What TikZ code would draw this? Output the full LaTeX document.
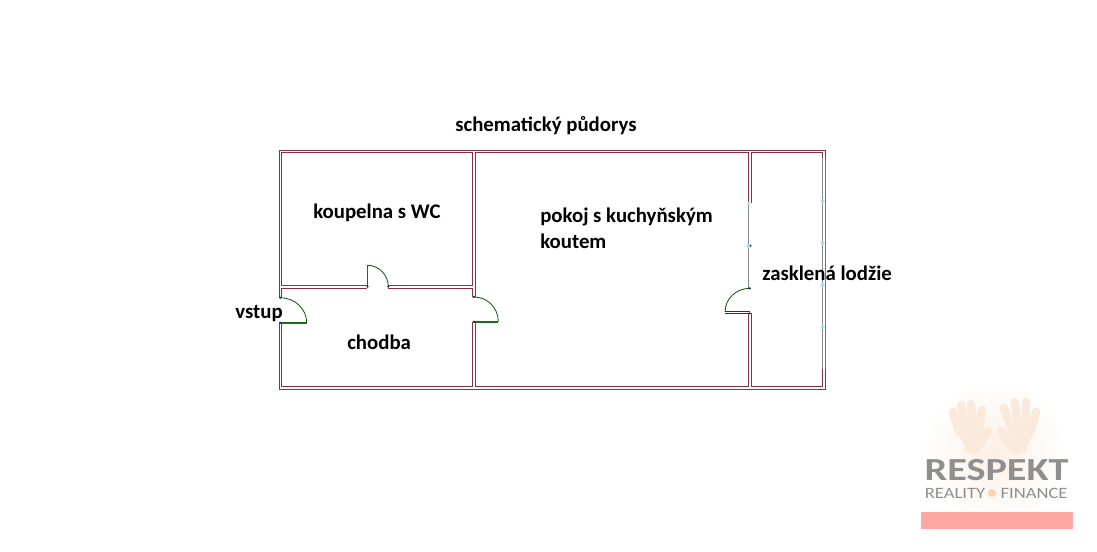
\documentclass[tikz,border=0pt]{standalone}
\usepackage{fontspec}
\setmainfont{Carlito}
\definecolor{wallred}{HTML}{8A3040}
\definecolor{doorgreen}{HTML}{1B6B1F}
\definecolor{glassgrey}{HTML}{7F8C96}
\definecolor{glassgreen}{HTML}{3F8F6A}
\definecolor{jointblue}{HTML}{14285A}
\definecolor{jointcyan}{HTML}{A8DCE0}
\definecolor{logogrey}{HTML}{8F8F8F}
\definecolor{logopeach}{HTML}{FAEADC}
\definecolor{glowpeach}{HTML}{FCEFE4}
\definecolor{barpink}{HTML}{FFA8A3}
\tikzset{
  wall/.style={draw=wallred,line width=0.22mm},
  leaf/.style={draw=doorgreen,line width=0.42mm},
  swing/.style={draw=doorgreen!70!black,line width=0.2mm},
  finger/.style={draw=logopeach,line width=2.1mm,line cap=round},
  room/.style={anchor=base west,inner sep=0pt,font=\bfseries\fontsize{14.8}{17}\selectfont,text=black},
}
\begin{document}
\begin{tikzpicture}[x=0.25mm,y=-0.25mm]
  \useasboundingbox (0,0) rectangle (1097,552);

  \draw[wall]  (279.3,297.7) -- (279.3,150) -- (825.7,150) -- (825.7,158); %outer top
  \draw[wall]  (279.3,322.7) -- (279.3,389) -- (825.7,389) -- (825.7,369.3); %outer bottom
  \draw[wall]  (281.7,297.7) -- (281.7,288.7) -- (367.3,288.7); %corridor top left
  \draw[wall]  (388.3,288.7) -- (472.7,288.7) -- (472.7,296.7); %corridor top right
  \draw[wall]  (281.7,322.7) -- (281.7,386.3) -- (472.7,386.3) -- (472.7,321.7); %corridor bottom
  \draw[wall]  (367.3,285.3) -- (281.7,285.3) -- (281.7,152.7) -- (472.7,152.7) -- (472.7,285.3) -- (388.3,285.3); %bathroom
  \draw[wall]  (475.3,296.7) -- (475.3,152.7) -- (748.7,152.7) -- (748.7,203.3); %room top
  \draw[wall]  (475.3,321.7) -- (475.3,386.3) -- (748.7,386.3) -- (748.7,313.3); %room bottom
  \draw[wall]  (751.3,203.3) -- (751.3,152.7) -- (822.7,152.7) -- (822.7,158); %loggia top
  \draw[wall]  (751.3,313.3) -- (751.3,386.3) -- (822.7,386.3) -- (822.7,369.3); %loggia bottom

  \draw[leaf]  (280,322.7) -- (306.7,322.7); %entrance door
  \draw[swing] (280,297.7) .. controls (295,297.7) and (306.7,309) .. (306.7,322.7);
  \draw[leaf]  (367.5,286.7) -- (367.5,265.3); %bathroom door
  \draw[swing] (367.5,265.3) .. controls (379,265.3) and (388.3,275) .. (388.3,286.7);
  \draw[leaf]  (474,321.7) -- (498.3,321.7); %corridor door
  \draw[swing] (474,297) .. controls (487.5,297) and (498.3,308) .. (498.3,321.7);
  \draw[swing] (750,311) -- (725,311);
  \draw[swing] (750,313.3) -- (725,313.3); %balcony door
  \draw[swing] (750,288.3) .. controls (736,288.3) and (725,299) .. (725,312);

  \draw[glassgrey,line width=0.25mm]  (748.8,203.3) -- (748.8,288.3); %inner glass
  \draw[glassgrey,line width=0.3mm]   (822.4,158) -- (822.4,369.3);
  \draw[glassgreen,line width=0.25mm] (825.2,158) -- (825.2,369.3); %loggia glass
  \foreach \y in {201,243,285,327}
    \fill[jointcyan] (822.6,\y) circle (0.5mm);
  \fill[jointcyan] (748.8,203.3) circle (0.45mm);
  \fill[jointcyan] (748.8,245.7) circle (0.55mm);
  \fill[jointblue] (750.6,245.7) circle (0.25mm);
  \fill[jointblue] (749.8,288.3) circle (0.3mm);
  \fill[jointblue] (749.8,313.3) circle (0.3mm);
  \fill[jointblue] (280.2,297.7) circle (0.3mm);
  \fill[jointblue] (280.2,322.7) circle (0.3mm);
  \fill[jointblue] (367.5,286.7) circle (0.3mm);
  \fill[jointblue] (388.3,286.7) circle (0.3mm);
  \fill[jointblue] (473.8,297) circle (0.3mm);
  \fill[jointblue] (473.8,321.7) circle (0.3mm);

  \node[room] (title) at (455,132) {schematický půdorys};
  \node[room] (bathroom) at (313,218) {koupelna s WC};
  \node[room] (kitchen) at (540,223) {pokoj s kuchyňským};
  \node[room] (corner) at (540,248) {koutem};
  \node[room] (loggia) at (762,280) {zasklená lodžie};
  \node[room] (entrance) at (235,318) {vstup};
  \node[room] (corridor) at (347,349) {chodba};

  \shade[inner color=glowpeach,outer color=white] (995,452) circle (18mm); %logo glow
  \fill[logopeach] (955,425) -- (983,418) -- (980,446) -- (976,455) -- (966,451) -- cycle; %left palm
  \foreach \tipx/\tipy/\rootx/\rooty in {953/412/959/432,961/405/966/430,971/404/973/430,982/410/979/430}
    \draw[finger] (\tipx,\tipy) -- (\rootx,\rooty);
  \draw[finger] (988,431) -- (976,450); %left thumb
  \fill[logopeach] (1008,418) -- (1036,425) -- (1026,452) -- (1014,455) -- (1010,446) -- cycle; %right palm
  \foreach \tipx/\tipy/\rootx/\rooty in {1004/408/1012/430,1015/402/1018/430,1026/402/1025/430,1036/412/1030/432}
    \draw[finger] (\tipx,\tipy) -- (\rootx,\rooty);
  \draw[finger] (1001,431) -- (1014,450); %right thumb
  \node[inner sep=0pt,text=logogrey,font=\bfseries\fontsize{28.6}{30}\selectfont] (brand) at (996.5,470) {\scalebox{1}[0.8]{RESPEKT}};
  \node[inner sep=0pt,text=logogrey,font=\fontsize{13.2}{15}\selectfont] (reality) at (955,493) {\scalebox{1}[0.85]{REALITY}};
  \node[inner sep=0pt,text=logogrey,font=\fontsize{13.2}{15}\selectfont] (finance) at (1034,493) {\scalebox{1}[0.85]{FINANCE}};
  \fill[logopeach!80!orange] (992,493) circle (1mm); %star
  \fill[barpink] (921,511.5) rectangle (1073,529); %bar
\end{tikzpicture}
\end{document}
